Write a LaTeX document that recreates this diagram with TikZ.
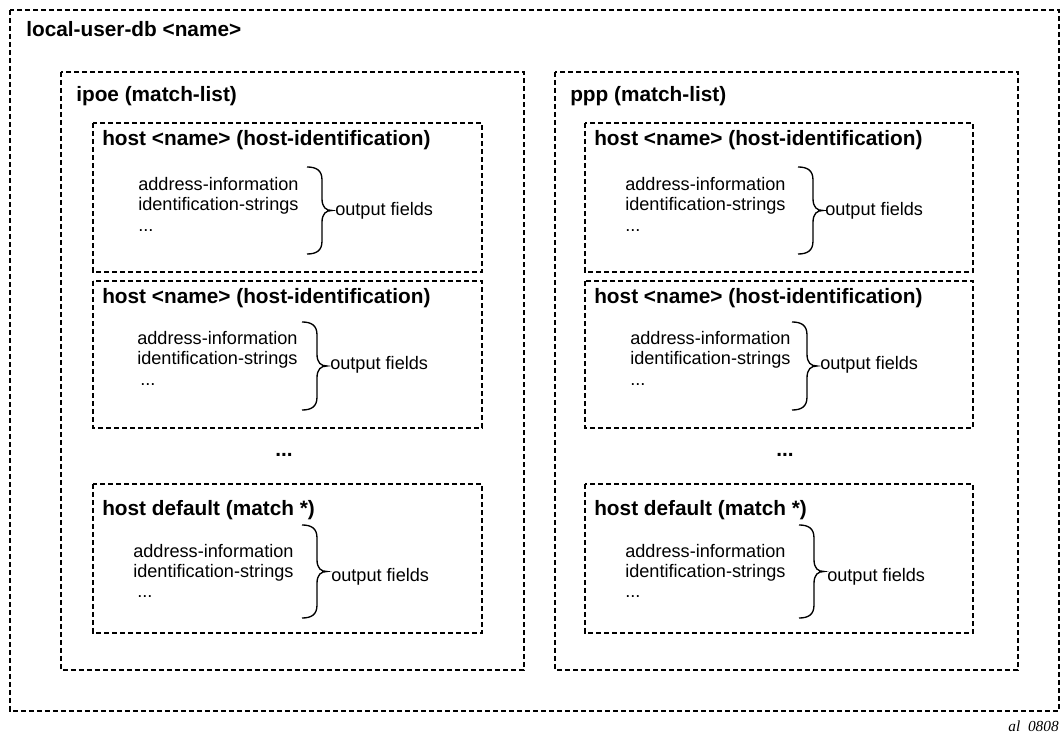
\documentclass[tikz,border=0pt]{standalone}
\usepackage{fontspec}
\setmainfont{Liberation Sans}
\newfontfamily\serifit{Liberation Serif}
\newcommand\cbrace[3]{\draw[brc] (#1,#2) .. controls ({#1+9},#2) and ({#1+15},{#2+3}) .. ({#1+15},{#2+13}) -- ({#1+15},{(#2+#3)/2-12}) .. controls ({#1+15},{(#2+#3)/2-3}) and ({#1+19},{(#2+#3)/2}) .. ({#1+25},{(#2+#3)/2}) .. controls ({#1+19},{(#2+#3)/2}) and ({#1+15},{(#2+#3)/2+3}) .. ({#1+15},{(#2+#3)/2+12}) -- ({#1+15},{#3-13}) .. controls ({#1+15},{#3-3}) and ({#1+9},#3) .. (#1,#3);}
\begin{document}
\begin{tikzpicture}[x=0.75pt,y=-0.75pt,
 dbox/.style={draw, line width=2.1pt, dash pattern=on 3.8pt off 2.2pt},
 ttl/.style={anchor=base west, inner sep=0, font=\fontsize{15.6}{18}\selectfont\bfseries},
 body/.style={anchor=base west, inner sep=0, font=\fontsize{13.6}{16}\selectfont},
 brc/.style={line width=1pt}]
\useasboundingbox (0,0) rectangle (1064,737);

% outer
\draw[dbox] (10,10) rectangle (1059,711);
\node[ttl] (tdb) at (26,37) {local-user-db <name>};

% ipoe
\draw[dbox] (61,72) rectangle (524,670);
\node[ttl] (tipoe) at (76,102) {ipoe (match-list)};
% ppp
\draw[dbox] (555,72) rectangle (1018,670);
\node[ttl] (tppp) at (570,102) {ppp (match-list)};

% ipoe host 1
\draw[dbox] (93,123) rectangle (482,272);
\node[ttl] (ih1t) at (102,146) {host <name> (host-identification)};
\node[body] (ih1a) at (138,191) {address-information};
\node[body] (ih1b) at (138,211) {identification-strings};
\node[body] (ih1c) at (138,232) {...};
\cbrace{307}{167}{254}
\node[body] (ih1o) at (335,216) {output fields};

% ipoe host 2
\draw[dbox] (93,281) rectangle (482,428);
\node[ttl] (ih2t) at (102,304) {host <name> (host-identification)};
\node[body] (ih2a) at (137,345) {address-information};
\node[body] (ih2b) at (137,365) {identification-strings};
\node[body] (ih2c) at (140,386) {...};
\cbrace{302}{322}{410}
\node[body] (ih2o) at (330,370) {output fields};

\node[ttl, anchor=center] (idots) at (284,455) {...};

% ipoe host default
\draw[dbox] (93,484) rectangle (482,633);
\node[ttl] (ih3t) at (102,516) {host default (match *)};
\node[body] (ih3a) at (133,557) {address-information};
\node[body] (ih3b) at (133,577) {identification-strings};
\node[body] (ih3c) at (137,598) {...};
\cbrace{302}{525}{618}
\node[body] (ih3o) at (331,581) {output fields};

% ppp host 1
\draw[dbox] (585,123) rectangle (973,272);
\node[ttl] (ph1t) at (594,146) {host <name> (host-identification)};
\node[body] (ph1a) at (625,191) {address-information};
\node[body] (ph1b) at (625,211) {identification-strings};
\node[body] (ph1c) at (625,232) {...};
\cbrace{798}{167}{254}
\node[body] (ph1o) at (825,216) {output fields};

% ppp host 2
\draw[dbox] (585,281) rectangle (973,428);
\node[ttl] (ph2t) at (594,304) {host <name> (host-identification)};
\node[body] (ph2a) at (630,345) {address-information};
\node[body] (ph2b) at (630,365) {identification-strings};
\node[body] (ph2c) at (630,386) {...};
\cbrace{792}{322}{410}
\node[body] (ph2o) at (820,370) {output fields};

\node[ttl, anchor=center] (pdots) at (785,455) {...};

% ppp host default
\draw[dbox] (585,484) rectangle (973,633);
\node[ttl] (ph3t) at (594,516) {host default (match *)};
\node[body] (ph3a) at (625,557) {address-information};
\node[body] (ph3b) at (625,577) {identification-strings};
\node[body] (ph3c) at (625,598) {...};
\cbrace{799}{525}{618}
\node[body] (ph3o) at (827,581) {output fields};

\node[anchor=base east, inner sep=0, font=\serifit\itshape\fontsize{11.5}{13}\selectfont] (lbl) at (1059,731) {al\ \ 0808};
\end{tikzpicture}
\end{document}
